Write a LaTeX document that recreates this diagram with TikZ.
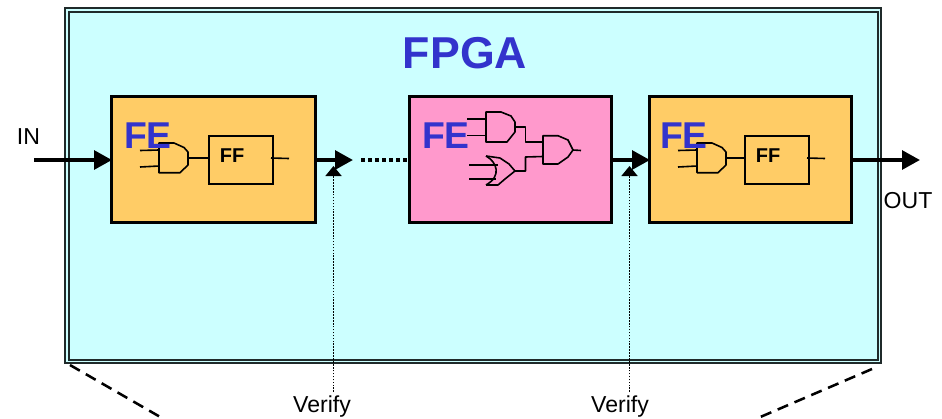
\documentclass[tikz,border=0pt]{standalone}
\usepackage{fontspec}
\setmainfont{Liberation Sans}
\usetikzlibrary{arrows.meta}
\definecolor{fpgabg}{HTML}{CCFFFF}
\definecolor{feorange}{HTML}{FFCC66}
\definecolor{fepink}{HTML}{FF99CC}
\definecolor{feblue}{HTML}{3333CC}
\definecolor{frame}{HTML}{1F2A2A}
\tikzset{
  x=0.75pt,y=-0.75pt,
  febox/.style={draw=black,line width=2.2pt,minimum width=151.5pt,minimum height=94.5pt,inner sep=0pt,anchor=north west},
  felabel/.style={text=feblue,font=\fontsize{28}{30}\selectfont\bfseries,inner sep=0pt},
  plain/.style={font=\fontsize{17.3}{19}\selectfont,inner sep=0pt},
  fflabel/.style={font=\fontsize{15}{17}\selectfont\bfseries,inner sep=0pt},
  ffbox/.style={draw=black,line width=1.2pt,minimum width=48pt,minimum height=36pt,inner sep=0pt,anchor=north west},
  wire/.style={line width=1.2pt,line join=round},
  flow/.style={line width=3pt,-{Triangle[length=13.5pt,width=14pt]}},
  check/.style={line width=1.3pt,dash pattern=on 1.2pt off 1pt,-{Triangle[length=7.5pt,width=12pt]}},
  zoomline/.style={line width=1.9pt,dash pattern=on 8.5pt off 5.2pt}
}
\begin{document}
\begin{tikzpicture}
\useasboundingbox (0,0) rectangle (942,418);
% FPGA frame
\node[draw=frame,fill=fpgabg,line width=1.6pt,minimum width=612.2pt,minimum height=266.2pt,inner sep=0pt,anchor=north west] (outer) at (64,7) {};
\node[draw=frame,line width=1.6pt,minimum width=607pt,minimum height=261pt,inner sep=0pt,anchor=north west] (inner) at (67.5,11) {};
\node[text=feblue,font=\fontsize{33.5}{36}\selectfont\bfseries,inner sep=0pt] (title) at (465,53) {FPGA};
% blocks
\node[febox,fill=feorange,minimum width=153pt] (fe1) at (110,95) {};
\node[febox,fill=fepink] (fe2) at (408,95) {};
\node[febox,fill=feorange] (fe3) at (648,95) {};
% connector anchors
\coordinate (inS) at (34,160);
\coordinate (a1) at (353,160);
\coordinate (d1) at (361,160);
\coordinate (a3) at (920,160);
\coordinate (t1) at (333.5,166);
\coordinate (t2) at (629.5,166);
\coordinate (s1) at (333.5,392);
\coordinate (s2) at (629.5,392);
% flows
\draw[flow] (inS) -- ([xshift=1.5pt]fe1.west |- inS);
\draw[flow] (fe1.east |- a1) -- (a1);
\draw[line width=3pt,dash pattern=on 3pt off 2.25pt] (d1) -- (fe2.west |- d1);
\draw[flow] (fe2.east |- a1) -- ([xshift=1.5pt]fe3.west |- a1);
\draw[flow] (fe3.east |- a3) -- (a3);
% verify lines
\draw[check] (s1) -- (t1);
\draw[check] (s2) -- (t2);
% labels
\node[plain] (in) at (28.5,137) {IN};
\node[plain] (out) at (908,200.5) {OUT};
\node[plain] (v1) at (322,406.5) {Verify};
\node[plain] (v2) at (620,406.5) {Verify};
% FE1 logic
\draw[wire] (159,143) -- (174,143) -- (184,147.5) -- (188,152) -- (188,165) -- (180,172.7) -- (159,172.7) -- cycle;
\draw[wire] (140,150.5) -- (159,150);
\draw[wire] (140,167) -- (159,166);
\node[ffbox] (ff1) at (208,135) {};
\draw[wire] (188,158) -- (ff1.west |- 0,158);
\draw[wire] (271,158) -- (289,158.5);
\node[fflabel] at (232,155.5) {FF};
\node[felabel] at (148,136) {FE};
% FE3 logic
\draw[wire] (697,143) -- (712,143) -- (722,147.5) -- (726,152) -- (726,165) -- (718,172.7) -- (697,172.7) -- cycle;
\draw[wire] (678,150.5) -- (697,150);
\draw[wire] (678,167) -- (697,166);
\node[ffbox] (ff3) at (744,135) {};
\draw[wire] (726,158) -- (ff3.west |- 0,158);
\draw[wire] (807,158) -- (825,158.5);
\node[fflabel] at (768,155.5) {FF};
\node[felabel] at (684,136) {FE};
% FE2 logic
\draw[wire] (486,112) -- (501,112) -- (511,116) -- (515,122) -- (515,132) -- (507,142) -- (486,142) -- cycle;
\draw[wire] (467,119) -- (486,119);
\draw[wire] (467,135.5) -- (486,135.5);
\draw[wire] (515,127) -- (525.5,127) -- (525.5,142) -- (543,142);
\draw[wire] (543,135.7) -- (558,135.7) -- (568,140) -- (573,150) -- (568,157) -- (558,164) -- (543,164) -- cycle;
\draw[wire] (573,150) -- (581,150.5);
\draw[wire] (543,156.5) -- (525.5,157) -- (525.5,171) -- (515,171);
\draw[wire] (486,156) -- (500,158) -- (509,164) -- (515,171) -- (505,179) -- (498,185) -- (486,185);
\draw[wire] (486,156) .. controls (497,162) and (502,176) .. (486,185);
\draw[wire] (469,165) -- (498,165);
\draw[wire] (469,179) -- (496,179);
\node[felabel] at (446,136) {FE};
% zoom lines
\coordinate (zl1) at (70,365);
\coordinate (zl2) at (162,418);
\coordinate (zr1) at (872,369);
\coordinate (zr2) at (758,418);
\draw[zoomline] (zl1) -- (zl2);
\draw[zoomline] (zr1) -- (zr2);
\end{tikzpicture}
\end{document}
